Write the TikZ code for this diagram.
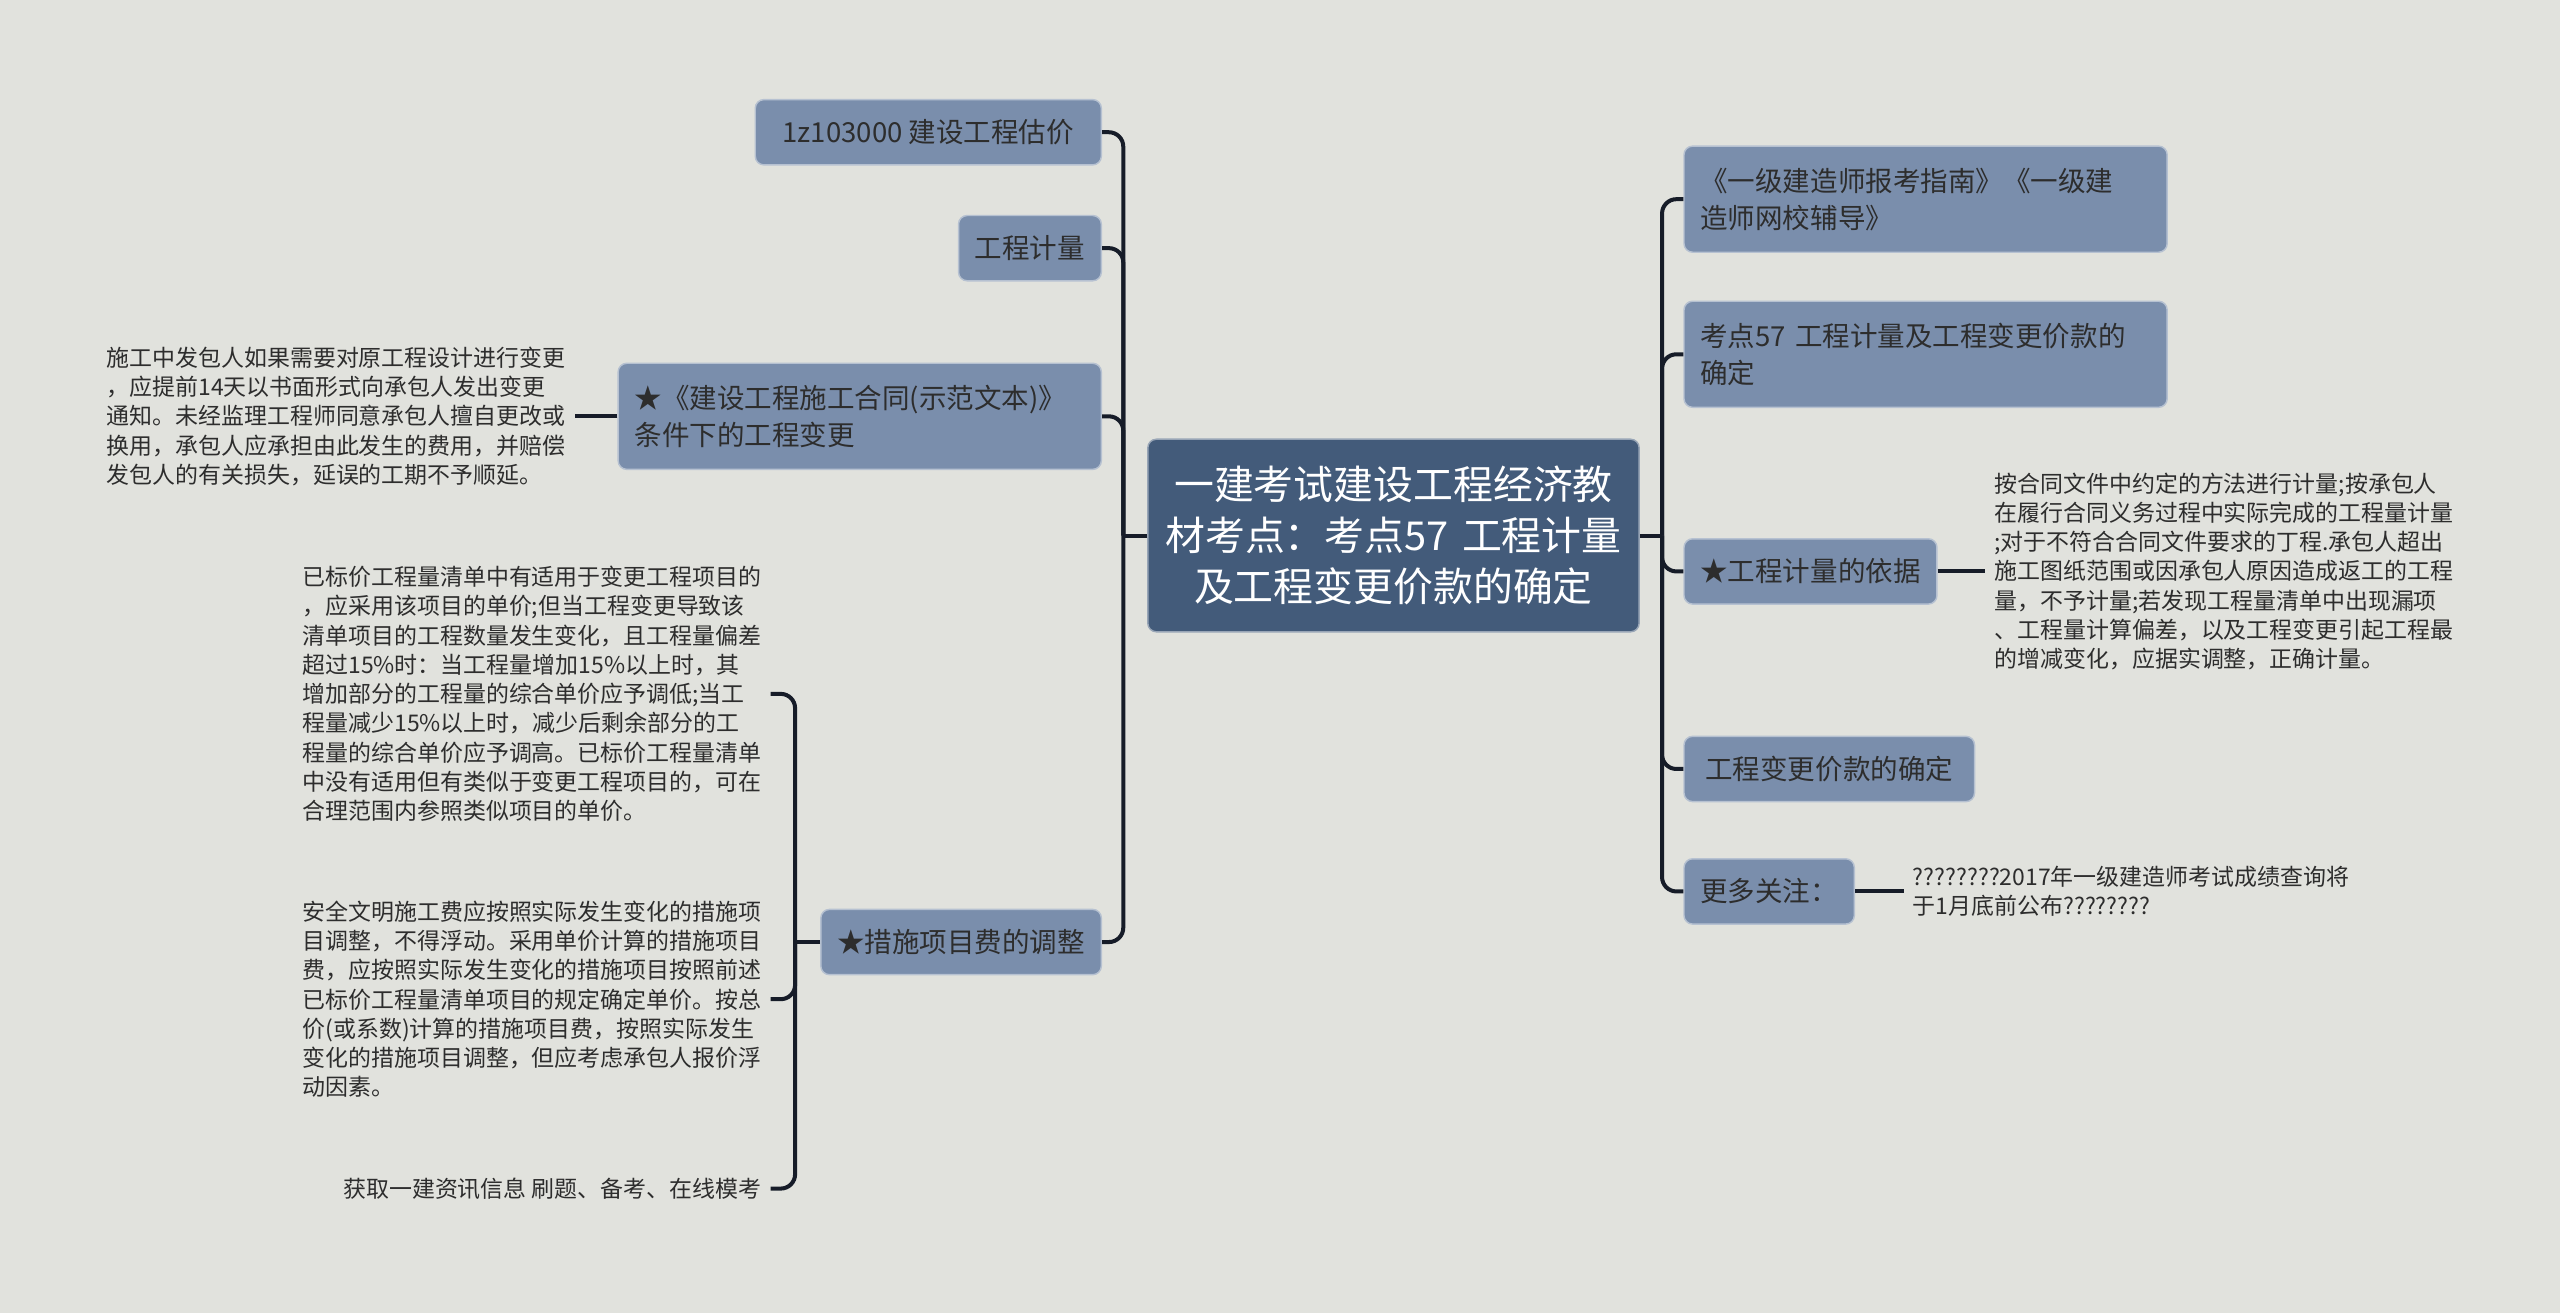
\documentclass[tikz,border=0pt]{standalone}
\usepackage{fontspec}
\setmainfont{Noto Sans CJK SC}
\usetikzlibrary{positioning}
\definecolor{bgCol}{RGB}{225,226,221}
\definecolor{rootCol}{RGB}{67,91,122}
\definecolor{topicCol}{RGB}{122,142,172}
\definecolor{lineCol}{RGB}{22,28,40}
\definecolor{txtCol}{RGB}{45,45,45}
\tikzset{
  topic/.style={draw=topicCol!55!white,line width=0.5pt,fill=topicCol,rounded corners=3pt,
                text=txtCol,font=\fontsize{9.6pt}{13pt}\selectfont,
                inner xsep=0.2cm,inner ysep=0pt,minimum height=0.8cm},
  wide/.style={topic,text width=5.52cm,align=left,minimum height=1.3cm},
  central/.style={draw=rootCol!55!white,line width=0.5pt,fill=rootCol,rounded corners=3pt,
                text=white,font=\fontsize{13.9pt}{17.9pt}\selectfont,align=center,
                text width=5.7cm,minimum width=6.02cm,minimum height=2.36cm},
  note/.style={text=txtCol,font=\fontsize{8pt}{10.2pt}\selectfont,inner sep=3pt},
  link/.style={draw=lineCol,line width=1.4pt,rounded corners=5pt},
}

\begin{document}
\begin{tikzpicture}[x=0.02cm,y=-0.02cm]
    \fill[bgCol] (0,0) rectangle (1568,804);
    \useasboundingbox (0,0) rectangle (1568,804);
    % --- centre ---
    \node[central] (root) at (853.5,328)
        {一建考试建设工程经济教\\材考点：考点57 工程计量\\及工程变更价款的确定};
    \coordinate (tl) at (688,328);
    \coordinate (tr) at (1018,328);
    \draw[link] (root.west) -- (tl);
    \draw[link] (root.east) -- (tr);
    % --- left branches ---
    \node[topic,anchor=east,minimum width=4.24cm] (l1) at (675,81) {1z103000 建设工程估价};
    \node[topic,anchor=east] (l2) at (675,152) {工程计量};
    \node[wide,anchor=east] (l3) at (675,255) {★《建设工程施工合同(示范文本)》\\条件下的工程变更};
    \node[topic,anchor=east] (l4) at (675,577) {★措施项目费的调整};
    \foreach \n in {l1,l2,l3,l4} \draw[link] (tl) |- (\n.east);
    \node[note,anchor=east,align=left] (n3) at (352,255)
        {施工中发包人如果需要对原工程设计进行变更\\，应提前14天以书面形式向承包人发出变更\\通知。未经监理工程师同意承包人擅自更改或\\换用，承包人应承担由此发生的费用，并赔偿\\发包人的有关损失，延误的工期不予顺延。};
    \draw[link] (l3.west) -- (n3.east);
    % --- notes under l4 ---
    \node[note,anchor=east,align=left] (na) at (472,425)
        {已标价工程量清单中有适用于变更工程项目的\\，应采用该项目的单价;但当工程变更导致该\\清单项目的工程数量发生变化，且工程量偏差\\超过15\%时：当工程量增加15\%以上时，其\\增加部分的工程量的综合单价应予调低;当工\\程量减少15\%以上时，减少后剩余部分的工\\程量的综合单价应予调高。已标价工程量清单\\中没有适用但有类似于变更工程项目的，可在\\合理范围内参照类似项目的单价。};
    \node[note,anchor=east,align=left] (nb) at (472,612)
        {安全文明施工费应按照实际发生变化的措施项\\目调整，不得浮动。采用单价计算的措施项目\\费，应按照实际发生变化的措施项目按照前述\\已标价工程量清单项目的规定确定单价。按总\\价(或系数)计算的措施项目费，按照实际发生\\变化的措施项目调整，但应考虑承包人报价浮\\动因素。};
    \node[note,anchor=east] (nc) at (472,728) {获取一建资讯信息 刷题、备考、在线模考};
    \coordinate (bl) at (487,577);
    \draw[link] (l4.west) -- (bl);
    \foreach \n in {na,nb,nc} \draw[link] (bl) |- (\n.east);
    % --- right branches ---
    \node[wide,anchor=west] (r1) at (1031,122) {《一级建造师报考指南》《一级建\\造师网校辅导》};
    \node[wide,anchor=west] (r2) at (1031,217) {考点57 工程计量及工程变更价款的\\确定};
    \node[topic,anchor=west] (r3) at (1031,350) {★工程计量的依据};
    \node[topic,anchor=west,minimum width=3.56cm] (r4) at (1031,471) {工程变更价款的确定};
    \node[topic,anchor=west] (r5) at (1031,546) {更多关注：};
    \foreach \n in {r1,r2,r3,r4,r5} \draw[link] (tr) |- (\n.west);
    \node[note,anchor=west,align=left] (m3) at (1216,350)
        {按合同文件中约定的方法进行计量;按承包人\\在履行合同义务过程中实际完成的工程量计量\\;对于不符合合同文件要求的丁程.承包人超出\\施工图纸范围或因承包人原因造成返工的工程\\量，不予计量;若发现工程量清单中出现漏项\\、工程量计算偏差，以及工程变更引起工程最\\的增减变化，应据实调整，正确计量。};
    \draw[link] (r3.east) -- (m3.west);
    \node[note,anchor=west,align=left] (m5) at (1166,546)
        {????????2017年一级建造师考试成绩查询将\\于1月底前公布????????};
    \draw[link] (r5.east) -- (m5.west);
\end{tikzpicture}
\end{document}
